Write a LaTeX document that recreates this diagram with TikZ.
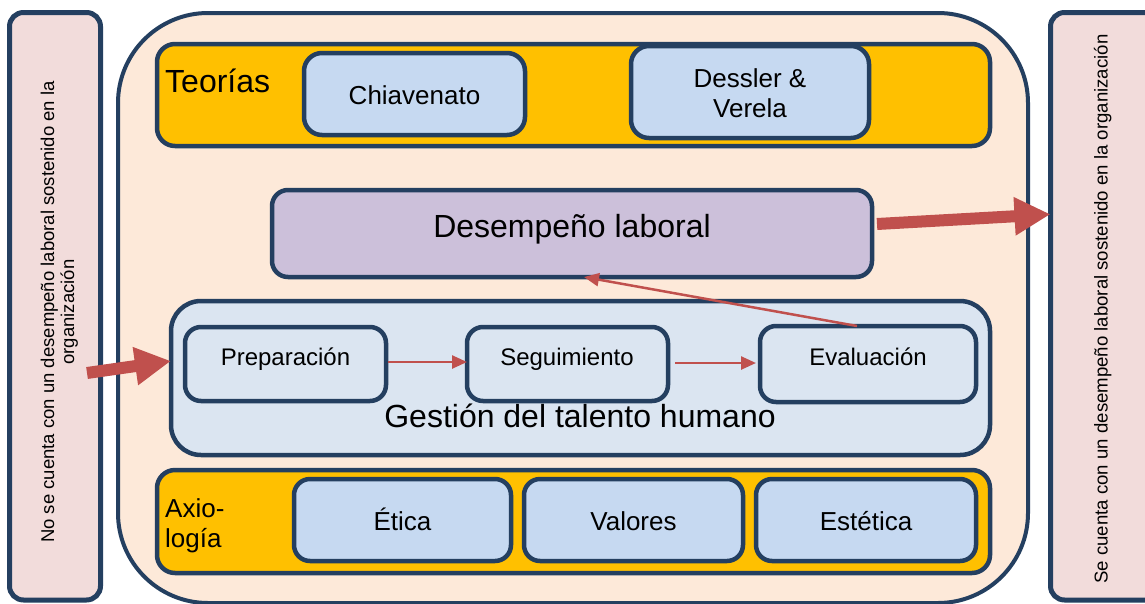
\documentclass[tikz,border=0pt]{standalone}
\usepackage{fontspec}
\setmainfont{Liberation Sans}
\usetikzlibrary{arrows.meta}
\definecolor{navy}{HTML}{243F60}
\definecolor{peach}{HTML}{FDE9D9}
\definecolor{pinkbox}{HTML}{F2DCDB}
\definecolor{gold}{HTML}{FFC000}
\definecolor{lblue}{HTML}{C6D9F1}
\definecolor{pblue}{HTML}{DBE5F1}
\definecolor{lilac}{HTML}{CCC0DA}
\definecolor{redar}{HTML}{C0504D}
\begin{document}
\begin{tikzpicture}[x=1pt,y=-1pt,
  box/.style={draw=navy, line width=4.5pt, inner sep=0pt, outer sep=0pt, rounded corners=#1},
  box/.default=16pt,
  tA/.style={font=\fontsize{26}{30}\selectfont, inner sep=0pt, anchor=base},
  tB/.style={font=\fontsize{32}{36}\selectfont, inner sep=0pt, anchor=base},
  tC/.style={font=\fontsize{24}{28}\selectfont, inner sep=0pt, anchor=base},
  side/.style={inner sep=0pt, anchor=base, rotate=90},
  smallarrow/.style={draw=redar, line width=2.5pt, -{Triangle[length=15pt,width=13pt]}},
  bigarrow/.style={draw=redar, line width=12pt, -{Triangle[length=36pt,width=36pt]}},
]
\useasboundingbox (0,0) rectangle (1145,603);
\fill[white] (0,0) rectangle (1145,603);

% side boxes
\node[box=14pt, line width=5pt, fill=pinkbox, minimum width=91pt, minimum height=587.5pt] (leftbox) at (55,306.25) {};
\node[box=14pt, line width=5pt, fill=pinkbox, minimum width=114.5pt, minimum height=587.5pt] (rightbox) at (1107.75,306.25) {};

% main container
\node[box=90pt, line width=4pt, fill=peach, minimum width=910pt, minimum height=590pt] (main) at (573,308) {};

% Teorias bar
\node[box=18pt, fill=gold, minimum width=833pt, minimum height=102pt] (teobar) at (573.5,95) {};
\node[box=18pt, fill=lblue, minimum width=221pt, minimum height=82pt] (chia) at (414.5,94) {};
\node[box=18pt, fill=lblue, minimum width=238pt, minimum height=92pt] (dess) at (750,92) {};

% Desempeno
\node[box=16pt, fill=lilac, minimum width=600pt, minimum height=87pt] (desemp) at (572,233.5) {};

% Gestion
\node[box=30pt, fill=pblue, minimum width=819pt, minimum height=154pt] (gestion) at (580.5,378) {};
\node[box=16pt, fill=pblue, minimum width=201pt, minimum height=74pt] (prep) at (285.5,364) {};
\node[box=16pt, fill=pblue, minimum width=201pt, minimum height=74pt] (seg) at (567.5,364) {};
\node[box=16pt, fill=pblue, minimum width=216pt, minimum height=76pt] (eval) at (868,364) {};

% Axiologia bar
\node[box=18pt, fill=gold, minimum width=833pt, minimum height=103pt] (axbar) at (573.5,521.5) {};
\node[box=16pt, fill=lblue, minimum width=217pt, minimum height=82pt] (etica) at (402.5,520) {};
\node[box=16pt, fill=lblue, minimum width=219pt, minimum height=82pt] (valores) at (633.5,520) {};
\node[box=16pt, fill=lblue, minimum width=220pt, minimum height=82pt] (estetica) at (866,520) {};

% texts
\node[tB, anchor=base west] (teotxt) at (165,92) {Teorías};
\node[tA] (chiatxt) at (414.5,104) {Chiavenato};
\node[tA] (desstxtA) at (750,87) {Dessler \&};
\node[tA] (desstxtB) at (750,117) {Verela};
\node[tB] (desemptxt) at (572,237) {Desempeño laboral};
\node[tB] (gesttxt) at (580,427) {Gestión del talento humano};
\node[tC] (preptxt) at (285.5,365) {Preparación};
\node[tC] (segtxt) at (567,365) {Seguimiento};
\node[tC] (evaltxt) at (868,365) {Evaluación};
\node[tA, anchor=base west] (axtxtA) at (165,517) {Axio-};
\node[tA, anchor=base west] (axtxtB) at (165,547) {logía};
\node[tA] (eticatxt) at (402.5,530) {Ética};
\node[tA] (valtxt) at (633.5,530) {Valores};
\node[tA] (esttxt) at (866,530) {Estética};

\node[side, font=\fontsize{18.5}{21}\selectfont] (lefttxtA) at (54,312) {No se cuenta con un desempeño laboral sostenido en la};
\node[side, font=\fontsize{18.5}{21}\selectfont] (lefttxtB) at (74,312) {organización};
\node[side, font=\fontsize{18.6}{21}\selectfont] (righttxt) at (1107.5,309) {Se cuenta con un desempeño laboral sostenido en la organización};

% connectors
\coordinate (lstart) at (87,373);
\draw[bigarrow] (lstart) -- ([yshift=17pt]gestion.west);
\draw[bigarrow] ([xshift=5pt,yshift=9.5pt]desemp.east) -- ([yshift=92pt]rightbox.west);
\draw[smallarrow] ([xshift=2pt,yshift=2pt]prep.east) -- ([yshift=2pt]seg.west);
\draw[smallarrow] ([xshift=7pt,yshift=1pt]seg.east) -- ([xshift=-4pt,yshift=1pt]eval.west);
\draw[smallarrow] ([xshift=-11pt]eval.north) -- ([xshift=12pt]desemp.south);
\end{tikzpicture}
\end{document}
